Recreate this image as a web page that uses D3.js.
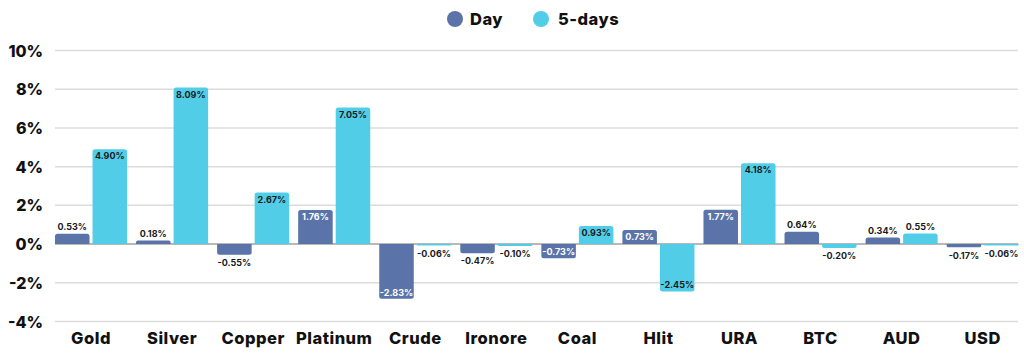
<!DOCTYPE html>
<html><head><meta charset="utf-8">
<script src="https://cdn.jsdelivr.net/npm/d3@7"></script>
<style>
html,body{margin:0;padding:0;background:#fff;}
svg{display:block;font-family:"Inter","Lato",sans-serif;}
</style></head>
<body><svg id="c" width="1024" height="355"></svg>
<script>
const categories = ["Gold","Silver","Copper","Platinum","Crude","Ironore","Coal","Hlit","URA","BTC","AUD","USD"];
const seriesNames = ["Day","5-days"];
const dayValues = [0.53,0.18,-0.55,1.76,-2.83,-0.47,-0.73,0.73,1.77,0.64,0.34,-0.17];
const fiveDayValues = [4.90,8.09,2.67,7.05,-0.06,-0.10,0.93,-2.45,4.18,-0.20,0.55,-0.06];
const yTicks = [-4,-2,0,2,4,6,8,10];
const colors = {"Day":"#5a74aa","5-days":"#52cde8"};

const svg = d3.select("#c");
const x0 = d3.scaleBand().domain(categories).range([55,1018.7]).paddingInner(0.111).paddingOuter(0);
const x1 = d3.scaleBand().domain(seriesNames).range([0,x0.bandwidth()]).paddingInner(0.08);
const y = d3.scaleLinear().domain([-4,10]).range([321.5,50.5]);

// gridlines
svg.append("g").selectAll("line").data(yTicks).join("line")
  .attr("x1",55).attr("x2",1018).attr("y1",d=>y(d)).attr("y2",d=>y(d))
  .attr("stroke",d=>d===0?"#a0a0a0":"#dcdcdc").attr("stroke-width",1.5);

// y labels
const yAxis = d3.axisLeft(y).tickValues(yTicks).tickFormat(d=>d+"%").tickSize(0).tickPadding(0);
const ya = svg.append("g").attr("transform","translate(43,0)").call(yAxis);
ya.select(".domain").remove();
ya.selectAll("text").attr("font-size",16).attr("font-weight",800).attr("fill","#111")
  .attr("font-family","Inter, sans-serif").attr("dy","0.35em");

// x labels
const xAxis = d3.axisBottom(x0).tickSize(0).tickPadding(0);
const xa = svg.append("g").attr("transform","translate(0,338)").call(xAxis);
xa.select(".domain").remove();
xa.selectAll("text").attr("font-size",16.5).attr("font-weight",800).attr("fill","#111")
  .attr("font-family","Inter, sans-serif").attr("letter-spacing",0.5).attr("dy","0.35em");

const data = categories.map((c,i)=>({cat:c, vals:[{s:"Day",v:dayValues[i]},{s:"5-days",v:fiveDayValues[i]}]}));

const g = svg.append("g").selectAll("g").data(data).join("g")
  .attr("transform",d=>`translate(${x0(d.cat)},0)`);

function barPath(x,w,y0,y1,r){
  const top = Math.min(y0,y1), bot = Math.max(y0,y1);
  const h = bot-top;
  r = Math.min(r, h/2, w/2);
  if (h<=0) return "";
  if (y1<y0){
    return `M${x},${bot}V${top+r}Q${x},${top} ${x+r},${top}H${x+w-r}Q${x+w},${top} ${x+w},${top+r}V${bot}Z`;
  } else {
    return `M${x},${top}V${bot-r}Q${x},${bot} ${x+r},${bot}H${x+w-r}Q${x+w},${bot} ${x+w},${bot-r}V${top}Z`;
  }
}

g.selectAll("path").data(d=>d.vals).join("path")
  .attr("d",d=>{
    const yv = y(d.v), y0 = y(0);
    let y1 = yv;
    if (Math.abs(yv-y0)<1.5) y1 = y0 + (d.v<0?1.5:-1.5);
    return barPath(x1(d.s), x1.bandwidth(), y0, y1, 2.5);
  })
  .attr("fill",d=>colors[d.s]);

g.selectAll("text").data(d=>d.vals).join("text")
  .attr("x",d=>x1(d.s)+x1.bandwidth()/2)
  .attr("y",d=>{
    const inside = Math.abs(d.v)>=0.7;
    if (d.v>=0) return inside ? y(d.v)+7 : y(d.v)-6.5;
    return inside ? y(d.v)-6.5 : Math.max(y(d.v),y(0)+1.5)+8;
  })
  .attr("dy","0.35em")
  .attr("text-anchor","middle")
  .attr("font-size",9)
  .attr("font-weight",700)
  .attr("fill",d=>{
    const inside = Math.abs(d.v)>=0.7;
    if (inside && d.s==="Day") return "#ffffff";
    return "#1a1a1a";
  })
  .text(d=>d.v.toFixed(2)+"%");

// legend
const leg = svg.append("g");
const legItems = [{s:"Day",cx:455,tx:470},{s:"5-days",cx:541,tx:558}];
leg.selectAll("circle").data(legItems).join("circle")
  .attr("cx",d=>d.cx).attr("cy",19).attr("r",8).attr("fill",d=>colors[d.s]);
leg.selectAll("text").data(legItems).join("text")
  .attr("x",d=>d.tx).attr("y",19).attr("dy","0.35em")
  .attr("font-size",16.5).attr("font-weight",800).attr("fill","#111").attr("letter-spacing",0.5)
  .text(d=>d.s);
</script></body></html>
